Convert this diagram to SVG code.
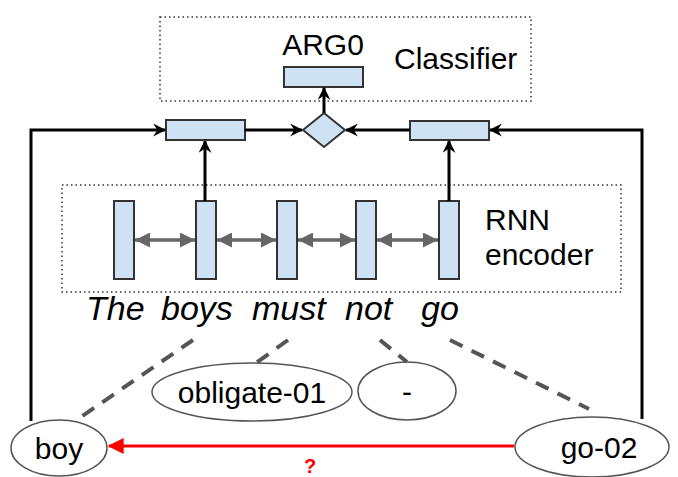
<svg xmlns="http://www.w3.org/2000/svg" width="678" height="477" viewBox="0 0 678 477">
<style>
text{font-family:"Liberation Sans",Arial,sans-serif;fill:#000}
.cell{fill:#cfe2f3;stroke:#333;stroke-width:2}
.dot{fill:none;stroke:#333;stroke-width:1.5;stroke-dasharray:1.5 3}
.blk{fill:none;stroke:#000;stroke-width:3}
.gry{fill:none;stroke:#666;stroke-width:3.5}
.dash{fill:none;stroke:#555;stroke-width:4;stroke-dasharray:14 10}
.ell{fill:#fff;stroke:#555;stroke-width:1.5}
.lbl{font-size:30px}
.word{font-size:34px;font-style:italic}
</style>
<defs>
<marker id="ab" viewBox="0 0 12 12" refX="11" refY="6" markerWidth="13" markerHeight="13" markerUnits="userSpaceOnUse" orient="auto"><path d="M0,0 L12,6 L0,12 L4,6 z" fill="#000"/></marker>
<marker id="ag" viewBox="0 0 12 12" refX="12" refY="6" markerWidth="15" markerHeight="15" markerUnits="userSpaceOnUse" orient="auto-start-reverse"><path d="M0,0 L12,6 L0,12 z" fill="#666"/></marker>
<marker id="ar" viewBox="0 0 12 12" refX="11" refY="6" markerWidth="16" markerHeight="16" markerUnits="userSpaceOnUse" orient="auto"><path d="M0,0 L12,6 L0,12 z" fill="#f00"/></marker>
</defs>

<g id="classifier-box">
<rect class="dot" x="160" y="17" width="371" height="84"/>
<text class="lbl" x="394" y="69">Classifier</text>
</g>
<g id="arg0">
<text class="lbl" x="323" y="55" text-anchor="middle">ARG0</text>
<rect class="cell" x="284" y="67" width="79" height="20"/>
</g>
<g id="left-rect"><rect class="cell" x="166" y="120" width="79" height="20"/></g>
<g id="right-rect"><rect class="cell" x="410" y="121" width="79" height="19"/></g>
<g id="diamond"><polygon class="cell" points="324,113 345,130 324,147 303,130"/></g>

<g id="rnn-box">
<rect class="dot" x="62" y="185" width="559" height="107"/>
<text class="lbl" x="485" y="230">RNN</text>
<text class="lbl" x="485" y="265">encoder</text>
</g>
<g id="cell1"><rect class="cell" x="114" y="201" width="20" height="78"/></g>
<g id="cell2"><rect class="cell" x="196" y="201" width="20" height="78"/></g>
<g id="cell3"><rect class="cell" x="277" y="201" width="20" height="78"/></g>
<g id="cell4"><rect class="cell" x="356" y="201" width="20" height="78"/></g>
<g id="cell5"><rect class="cell" x="439" y="201" width="20" height="78"/></g>

<g id="words">
<text class="word" x="86" y="320">The</text>
<text class="word" x="161" y="320">boys</text>
<text class="word" x="252" y="320">must</text>
<text class="word" x="345" y="320">not</text>
<text class="word" x="421" y="320">go</text>
</g>

<g id="boy"><ellipse class="ell" cx="59" cy="448" rx="48" ry="28"/><text class="lbl" x="59" y="459" text-anchor="middle">boy</text></g>
<g id="obligate-01"><ellipse class="ell" cx="252" cy="392" rx="100" ry="29"/><text class="lbl" x="252" y="403" text-anchor="middle">obligate-01</text></g>
<g id="neg"><ellipse class="ell" cx="407" cy="391" rx="49" ry="29"/><text class="lbl" x="407" y="402" text-anchor="middle">-</text></g>
<g id="go-02"><ellipse class="ell" cx="592" cy="447" rx="77" ry="30"/><text class="lbl" x="599" y="458" text-anchor="middle">go-02</text></g>

<g id="connectors">
<line class="blk" x1="324" y1="113" x2="324" y2="88" marker-end="url(#ab)"/>
<line class="blk" x1="245" y1="130" x2="302" y2="130" marker-end="url(#ab)"/>
<line class="blk" x1="410" y1="130" x2="346" y2="130" marker-end="url(#ab)"/>
<polyline class="blk" points="31,421 31,130 165,130" marker-end="url(#ab)"/>
<polyline class="blk" points="642,419 642,130 490,130" marker-end="url(#ab)"/>
<line class="blk" x1="205" y1="201" x2="205" y2="141" marker-end="url(#ab)"/>
<line class="blk" x1="449" y1="201" x2="449" y2="141" marker-end="url(#ab)"/>
<line class="gry" x1="135" y1="240" x2="195" y2="240" marker-start="url(#ag)" marker-end="url(#ag)"/>
<line class="gry" x1="217" y1="240" x2="276" y2="240" marker-start="url(#ag)" marker-end="url(#ag)"/>
<line class="gry" x1="298" y1="240" x2="355" y2="240" marker-start="url(#ag)" marker-end="url(#ag)"/>
<line class="gry" x1="377" y1="240" x2="438" y2="240" marker-start="url(#ag)" marker-end="url(#ag)"/>
<line class="dash" x1="193" y1="340" x2="78" y2="419"/>
<line class="dash" x1="288" y1="340" x2="256" y2="363"/>
<line class="dash" x1="380" y1="340" x2="407" y2="362"/>
<line class="dash" x1="450" y1="340" x2="589" y2="409"/>
<line x1="514" y1="446" x2="109" y2="446" stroke="#f00" stroke-width="3" marker-end="url(#ar)"/>
<text x="310" y="473" text-anchor="middle" font-size="20" font-weight="bold" style="fill:#f00">?</text>
</g>
</svg>
